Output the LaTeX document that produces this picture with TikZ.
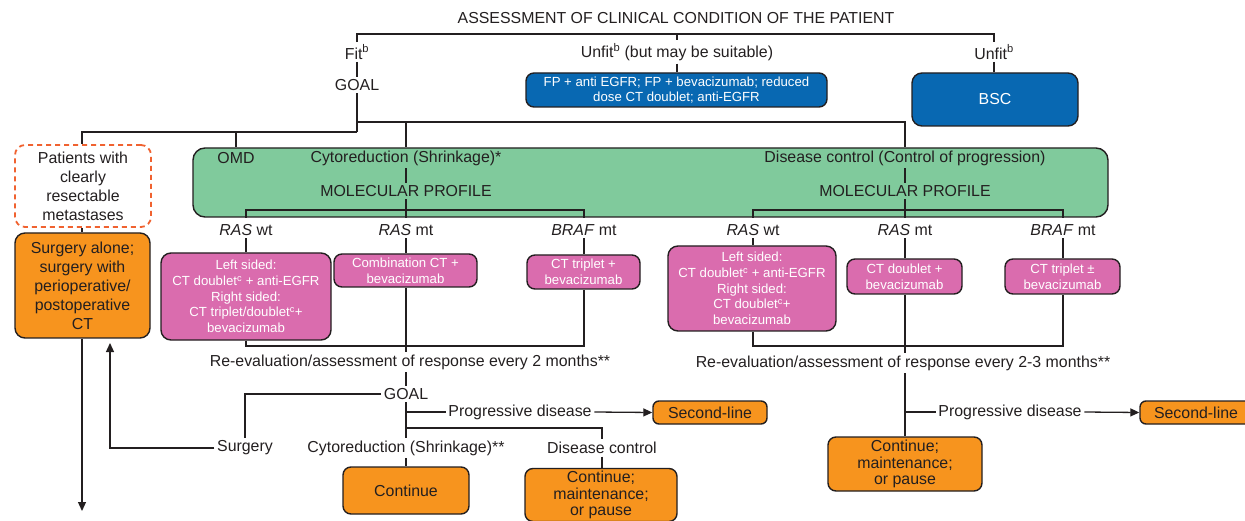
\documentclass[tikz,border=0pt]{standalone}
\usepackage{fontspec}
\setmainfont{Liberation Sans}
\usetikzlibrary{arrows.meta}
\definecolor{ink}{RGB}{35,31,32}
\definecolor{bblue}{RGB}{8,104,178}
\definecolor{borange}{RGB}{247,148,30}
\definecolor{bpink}{RGB}{218,108,174}
\definecolor{bgreen}{RGB}{128,202,156}
\definecolor{dorange}{RGB}{240,98,48}
\begin{document}
\begin{tikzpicture}[x=1pt,y=-1pt,
  txt/.style={font=\fontsize{15.9}{19}\selectfont, text=ink, inner sep=2.5pt},
  box/.style={draw=ink, line width=1.4pt, rounded corners=8pt, inner sep=0pt, align=center},
  pinkbox/.style={box, fill=bpink, text=white, font=\fontsize{13.2}{15.7}\selectfont},
  bluebox/.style={box, fill=bblue, text=white, font=\fontsize{13.2}{15}\selectfont},
  orangebox/.style={box, fill=borange, text=ink, font=\fontsize{15.9}{19}\selectfont},
  contbox/.style={orangebox, font=\fontsize{15.9}{16.5}\selectfont},
  conn/.style={draw=ink, line width=1.3pt},
  arr/.style={conn, -{Triangle[length=9pt,width=8pt]}}
]
\useasboundingbox (0,0) rectangle (1245,521);

% ---- top level
\node[txt] (title) at (676,18) {ASSESSMENT OF CLINICAL CONDITION OF THE PATIENT};
\node[txt] (fit) at (357,52) {Fit\textsuperscript{b}};
\node[txt] (unfitm) at (677,52) {Unfit\textsuperscript{b} (but may be suitable)};
\node[txt] (unfit) at (994,52) {Unfit\textsuperscript{b}};
\node[txt] (goal) at (357,85) {GOAL};
\node[bluebox, minimum width=301pt, minimum height=34pt] (fp) at (676.5,90) {FP + anti EGFR; FP + bevacizumab; reduced\\dose CT doublet; anti-EGFR};
\node[bluebox, rounded corners=10pt, minimum width=166pt, minimum height=53pt, font=\fontsize{15.9}{19}\selectfont] (bsc) at (995,99.5) {BSC};

\coordinate (tb) at (677,34);
\draw[conn] (fit.north) |- (tb) -| (unfit.north);
\draw[conn] (tb) -- (unfitm.north);
\draw[conn] (unfitm.south) -- (fp.north -| unfitm.south);
\draw[conn] (unfit.south) -- (bsc.north -| unfit.south);
\draw[conn] (fit) -- (goal);

% ---- left column
\node[box, draw=dorange, line width=1.8pt, dash pattern=on 5pt off 4pt, rounded corners=10pt, minimum width=136pt, minimum height=82pt, font=\fontsize{15.9}{19}\selectfont, text=ink] (pat) at (83,186) {Patients with\\clearly\\resectable\\metastases};
\node[orangebox, minimum width=135pt, minimum height=105pt, rounded corners=10pt] (surg) at (82.5,285.5) {Surgery alone;\\surgery with\\perioperative/\\postoperative\\CT};
\draw[conn] (pat.south -| 82,0) -- (surg.north -| 82,0);
\coordinate (down) at (82,511);
\draw[arr] (surg.south -| down) -- (down);

% ---- green box
\node[box, fill=bgreen, rounded corners=12pt, minimum width=915pt, minimum height=69pt] (green) at (650.5,182.5) {};
\node[txt] (omd) at (236,158) {OMD};
\node[txt] (cyto) at (406,158) {Cytoreduction (Shrinkage)*};
\node[txt] (dc) at (905,158) {Disease control (Control of progression)};
\node[txt] (mp1) at (406,191) {MOLECULAR PROFILE};
\node[txt] (mp2) at (905,191) {MOLECULAR PROFILE};
\draw[conn] (cyto) -- (mp1);
\draw[conn] (dc) -- (mp2);

% goal branches
\coordinate (ga) at (357,122);
\coordinate (gb) at (357,132);
\draw[conn] (goal.south) -- (gb);
\draw[conn] (ga) -| (dc |- green.north);
\draw[conn] (cyto |- ga) -- (cyto |- green.north);
\draw[conn] (gb) -| (pat.north -| 82,0);
\draw[conn] (omd |- gb) -- (omd |- green.north);

% ---- molecular branches
\node[txt] (rw1) at (246,230) {\textit{RAS} wt};
\node[txt] (rm1) at (406,230) {\textit{RAS} mt};
\node[txt] (bm1) at (584,230) {\textit{BRAF} mt};
\node[txt] (rw2) at (753,230) {\textit{RAS} wt};
\node[txt] (rm2) at (905,230) {\textit{RAS} mt};
\node[txt] (bm2) at (1063,230) {\textit{BRAF} mt};

\draw[conn] (mp1.south) -- (mp1 |- green.south);
\draw[conn] (rw1 |- green.south) -- (246,210) -- (584,210) -- (bm1 |- green.south);
\draw[conn] (mp2.south) -- (mp2 |- green.south);
\draw[conn] (rw2 |- green.south) -- (753,210) -- (1063,210) -- (bm2 |- green.south);

\node[pinkbox, minimum width=170pt, minimum height=87pt, rounded corners=10pt] (pw1) at (246,296.5) {Left sided:\\CT doublet\textsuperscript{c} + anti-EGFR\\Right sided:\\CT triplet/doublet\textsuperscript{c}+\\bevacizumab};
\node[pinkbox, minimum width=143pt, minimum height=33pt] (pm1) at (405.5,270.5) {Combination CT +\\bevacizumab};
\node[pinkbox, minimum width=113pt, minimum height=34pt] (pb1) at (583.5,272) {CT triplet +\\bevacizumab};
\node[pinkbox, minimum width=168pt, minimum height=85pt, rounded corners=10pt] (pw2) at (752,288.5) {Left sided:\\CT doublet\textsuperscript{c} + anti-EGFR\\Right sided:\\CT doublet\textsuperscript{c}+\\bevacizumab};
\node[pinkbox, minimum width=115pt, minimum height=35pt] (pm2) at (904.5,276.5) {CT doublet +\\bevacizumab};
\node[pinkbox, minimum width=115pt, minimum height=35pt] (pb2) at (1062.5,276.5) {CT triplet \textpm\\bevacizumab};

\draw[conn] (rw1.south) -- (rw1 |- pw1.north);
\draw[conn] (rm1.south) -- (rm1 |- pm1.north);
\draw[conn] (bm1.south) -- (bm1 |- pb1.north);
\draw[conn] (rw2.south) -- (rw2 |- pw2.north);
\draw[conn] (rm2.south) -- (rm2 |- pm2.north);
\draw[conn] (bm2.south) -- (bm2 |- pb2.north);

% ---- re-evaluation
\node[txt] (re1) at (410,362) {Re-evaluation/assessment of response every 2 months**};
\node[txt] (re2) at (903,363) {Re-evaluation/assessment of response every 2-3 months**};
\draw[conn] (rw1 |- pw1.south) -- (246,346) -- (584,346) -- (bm1 |- pb1.south);
\draw[conn] (rm1 |- pm1.south) -- (rm1 |- re1.north);
\draw[conn] (rw2 |- pw2.south) -- (753,346) -- (1063,346) -- (bm2 |- pb2.south);
\draw[conn] (rm2 |- pm2.south) -- (rm2 |- re2.north);

% ---- lower left
\node[txt] (goal2) at (406,394) {GOAL};
\draw[conn] (goal2.north) -- (goal2 |- re1.south);
\node[txt] (surgery) at (245,448) {Surgery};
\node[txt] (cyto2) at (406,448) {Cytoreduction (Shrinkage)**};
\node[txt] (dc2) at (602,448) {Disease control};
\node[txt] (pd1) at (520,412) {Progressive disease};
\node[orangebox, minimum width=114pt, minimum height=23pt, rounded corners=6pt] (sl1) at (710,412.5) {Second-line};
\node[contbox, minimum width=126pt, minimum height=47pt] (cont1) at (406,490.5) {Continue};
\node[contbox, minimum width=152pt, minimum height=53pt] (cont2) at (601,495) {Continue;\\maintenance;\\or pause};

\draw[conn] (goal2.south) -- (goal2 |- cyto2.north);
\draw[conn] (406,412) -- (pd1.west);
\draw[arr] (pd1.east) -- (sl1.west);
\draw[conn] (406,428) -| (dc2.north);
\draw[conn] (cyto2.south) -- (cyto2 |- cont1.north);
\draw[conn] (dc2.south) -- (dc2 |- cont2.north);
\draw[conn] (goal2.west) -| (surgery.north);
\coordinate (up) at (110,343);
\draw[arr] (surgery.west) -| (up);

% ---- lower right
\node[txt] (pd2) at (1010,412) {Progressive disease};
\node[orangebox, minimum width=112pt, minimum height=23pt, rounded corners=6pt] (sl2) at (1196,412.5) {Second-line};
\node[contbox, minimum width=154pt, minimum height=54pt] (cont3) at (905,464) {Continue;\\maintenance;\\or pause};
\draw[conn] (rm2 |- re2.south) -- (rm2 |- cont3.north);
\draw[conn] (905,412) -- (pd2.west);
\draw[arr] (pd2.east) -- (sl2.west);
\end{tikzpicture}
\end{document}
